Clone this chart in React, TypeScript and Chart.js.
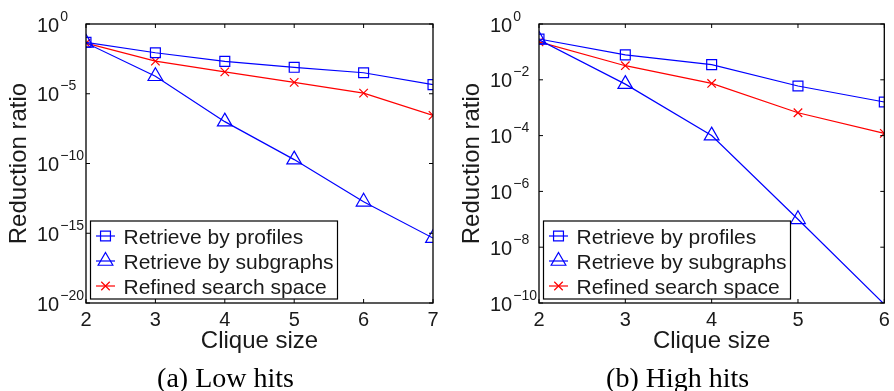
import React, { useEffect, useRef } from 'react';
import { Chart, registerables } from 'chart.js';

Chart.register(...registerables);

// ---------- data ----------
const cliqueLow = [2, 3, 4, 5, 6, 7];
const lowProfiles = [4.9e-2, 8.7e-3, 2.1e-3, 7.9e-4, 3.2e-4, 4.5e-5];
const lowSubgraphs = [4.4e-2, 1.8e-4, 1.0e-7, 1.9e-10, 1.8e-13, 4.5e-16];
const lowRefined = [4.2e-2, 2.2e-3, 3.7e-4, 6.5e-5, 1.1e-5, 2.8e-7];

const cliqueHigh = [2, 3, 4, 5, 6];
const highProfiles = [0.29, 0.078, 0.035, 6.0e-3, 1.6e-3];
const highSubgraphs = [0.27, 7.0e-3, 1.0e-4, 1.0e-7, 9.0e-11];
const highRefined = [0.23, 0.032, 7.4e-3, 6.6e-4, 1.2e-4];

const seriesLabels = ['Retrieve by profiles', 'Retrieve by subgraphs', 'Refined search space'];
const lowYTickExponents = [0, -5, -10, -15, -20];
const highYTickExponents = [0, -2, -4, -6, -8, -10];
const xTitle = 'Clique size';
const yTitle = 'Reduction ratio';
const captionLow = '(a) Low hits';
const captionHigh = '(b) High hits';

// ---------- styles ----------
const SANS = '"Liberation Sans", Arial, Helvetica, sans-serif';
const SERIF = '"Liberation Serif", "Times New Roman", serif';
const BLUE = '#0000ff';
const RED = '#ff0000';
const TEXT = '#1a1a1a';
const LINE_W = 1.2;
const markerSpecs = [
  { color: BLUE, style: 'rect', r: 7 },
  { color: BLUE, style: 'triangle', r: 8.5 },
  { color: RED, style: 'crossRot', r: 6 },
];

function drawMarker(ctx: CanvasRenderingContext2D, style: string, x: number, y: number, r: number) {
  ctx.beginPath();
  if (style === 'rect') {
    const s = Math.SQRT1_2 * r;
    ctx.rect(x - s, y - s, 2 * s, 2 * s);
  } else if (style === 'triangle') {
    for (let k = 0; k < 3; k++) {
      const a = (k * 2 * Math.PI) / 3;
      const px = x + Math.sin(a) * r;
      const py = y - Math.cos(a) * r;
      if (k === 0) ctx.moveTo(px, py);
      else ctx.lineTo(px, py);
    }
    ctx.closePath();
  } else {
    const o = Math.SQRT1_2 * r;
    ctx.moveTo(x - o, y - o);
    ctx.lineTo(x + o, y + o);
    ctx.moveTo(x - o, y + o);
    ctx.lineTo(x + o, y - o);
  }
  ctx.stroke();
}

const matlabAxes = {
  id: 'matlabAxes',
  afterDatasetsDraw(chart: any, _args: any, opts: any) {
    const ctx: CanvasRenderingContext2D = chart.ctx;
    const a = chart.chartArea;
    const xs = chart.scales.x;
    const ys = chart.scales.y;
    ctx.save();
    // box
    ctx.strokeStyle = '#000';
    ctx.lineWidth = 1.3;
    ctx.strokeRect(a.left, a.top, a.right - a.left, a.bottom - a.top);
    // ticks
    ctx.lineWidth = 1;
    ctx.beginPath();
    for (let v = xs.min; v <= xs.max; v++) {
      const px = xs.getPixelForValue(v);
      ctx.moveTo(px, a.bottom);
      ctx.lineTo(px, a.bottom - 4);
      ctx.moveTo(px, a.top);
      ctx.lineTo(px, a.top + 4);
    }
    for (const e of opts.yTicks) {
      const py = ys.getPixelForValue(Math.pow(10, e));
      ctx.moveTo(a.left, py);
      ctx.lineTo(a.left + 4, py);
      ctx.moveTo(a.right, py);
      ctx.lineTo(a.right - 4, py);
    }
    ctx.stroke();

    ctx.fillStyle = TEXT;
    // x tick labels
    ctx.font = `20px ${SANS}`;
    ctx.textAlign = 'center';
    ctx.textBaseline = 'alphabetic';
    for (let v = xs.min; v <= xs.max; v++) {
      ctx.fillText(String(v), xs.getPixelForValue(v), a.bottom + 23);
    }
    // y tick labels 10^e
    ctx.textAlign = 'left';
    for (const e of opts.yTicks) {
      const py = ys.getPixelForValue(Math.pow(10, e));
      const lx = a.left - 49;
      ctx.font = `20px ${SANS}`;
      ctx.fillText('10', lx, py + 7.5);
      const w = ctx.measureText('10').width;
      ctx.font = `14px ${SANS}`;
      const ex = e === 0 ? '0' : '\u2212' + Math.abs(e);
      ctx.fillText(ex, lx + w + 1, py - 3.5);
    }
    // x title
    ctx.font = `24px ${SANS}`;
    ctx.textAlign = 'center';
    const cx = (a.left + a.right) / 2;
    ctx.fillText(xTitle, cx, a.bottom + 45);
    // y title
    ctx.save();
    ctx.translate(a.left - 60, (a.top + a.bottom) / 2);
    ctx.rotate(-Math.PI / 2);
    ctx.fillText(yTitle, 0, 0);
    ctx.restore();
    // caption
    ctx.font = `28px ${SERIF}`;
    ctx.fillStyle = '#000';
    ctx.fillText(opts.caption, cx - 34, a.bottom + 84);

    // legend
    const bl = a.left + 4.5;
    const bw = 247;
    const bh = 78;
    const bt = a.bottom - 4 - bh;
    ctx.fillStyle = '#fff';
    ctx.fillRect(bl, bt, bw, bh);
    ctx.strokeStyle = '#000';
    ctx.lineWidth = 1.2;
    ctx.strokeRect(bl, bt, bw, bh);
    chart.data.datasets.forEach((ds: any, i: number) => {
      const m = markerSpecs[i];
      const yc = bt + 15 + i * 25;
      ctx.strokeStyle = m.color;
      ctx.lineWidth = LINE_W;
      ctx.beginPath();
      ctx.moveTo(bl + 5.5, yc);
      ctx.lineTo(bl + 24.5, yc);
      ctx.stroke();
      drawMarker(ctx, m.style, bl + 15, yc, m.r);
      ctx.fillStyle = TEXT;
      ctx.font = `21px ${SANS}`;
      ctx.textAlign = 'left';
      ctx.fillText(ds.label, bl + 33, yc + 7.5);
    });
    ctx.restore();
  },
};

type PanelProps = {
  clique: number[];
  series: number[][];
  yTicks: number[];
  caption: string;
  padLeft: number;
  padRight: number;
};

function Panel({ clique, series, yTicks, caption, padLeft, padRight }: PanelProps) {
  const ref = useRef<HTMLCanvasElement | null>(null);
  useEffect(() => {
    if (!ref.current) return;
    const yMin = Math.pow(10, Math.min(...yTicks));
    const yMax = Math.pow(10, Math.max(...yTicks));
    const datasets = series.map((vals, i) => {
      const m = markerSpecs[i];
      return {
        label: seriesLabels[i],
        data: clique.map((x, j) => ({ x, y: vals[j] })),
        borderColor: m.color,
        backgroundColor: 'rgba(0,0,0,0)',
        borderWidth: LINE_W,
        pointStyle: m.style,
        pointRadius: (c: any) => (c.raw && c.raw.y < yMin ? 0 : m.r),
        pointBorderColor: m.color,
        pointBackgroundColor: 'rgba(0,0,0,0)',
        pointBorderWidth: LINE_W,
        tension: 0,
        fill: false,
      };
    });
    const chart = new Chart(ref.current, {
      type: 'line',
      data: { datasets } as any,
      options: {
        animation: false,
        responsive: false,
        events: [],
        layout: { padding: { left: padLeft, right: padRight, top: 24, bottom: 88 } },
        scales: {
          x: { type: 'linear', min: clique[0], max: clique[clique.length - 1], display: false },
          y: { type: 'logarithmic', min: yMin, max: yMax, display: false },
        },
        plugins: {
          legend: { display: false },
          tooltip: { enabled: false },
          matlabAxes: { yTicks, caption },
        } as any,
      },
      plugins: [matlabAxes],
    } as any);
    return () => chart.destroy();
  }, []);
  return <canvas ref={ref} width={447} height={391} style={{ display: 'block', width: 447, height: 391 }} />;
}

export default function App() {
  return (
    <div style={{ position: 'absolute', left: 0, top: 0, width: 894, height: 391, background: '#fff', display: 'flex' }}>
      <Panel
        clique={cliqueLow}
        series={[lowProfiles, lowSubgraphs, lowRefined]}
        yTicks={lowYTickExponents}
        caption={captionLow}
        padLeft={86}
        padRight={14}
      />
      <Panel
        clique={cliqueHigh}
        series={[highProfiles, highSubgraphs, highRefined]}
        yTicks={highYTickExponents}
        caption={captionHigh}
        padLeft={92}
        padRight={8}
      />
    </div>
  );
}
